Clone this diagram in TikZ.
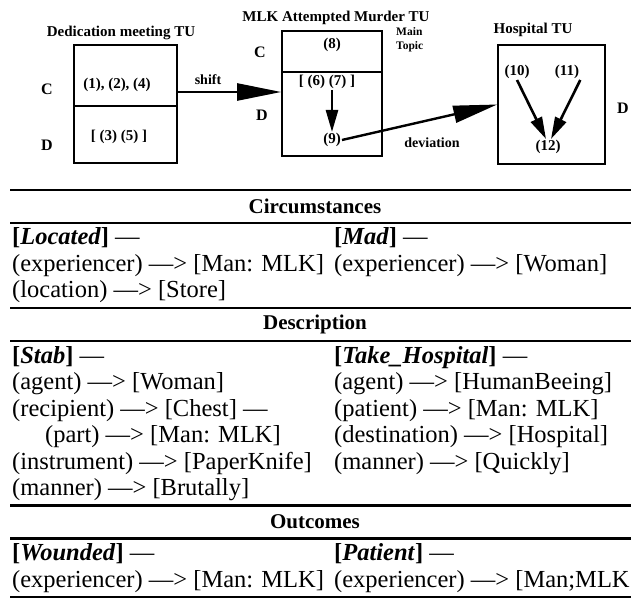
\documentclass[tikz,border=0pt]{standalone}
\usepackage{fontspec}
\setmainfont{Liberation Serif}
\usetikzlibrary{arrows.meta}

\begin{document}
\begin{tikzpicture}[x=1pt,y=-1pt,
    tu_box/.style={draw=black,line width=1.6pt,inner sep=0pt},
    tu_title/.style={font=\fontsize{15}{15}\selectfont\bfseries,inner sep=1pt},
    event_label/.style={font=\fontsize{15}{15}\selectfont\bfseries,inner sep=1pt},
    side_label/.style={font=\fontsize{16}{16}\selectfont\bfseries,inner sep=1pt},
    note_label/.style={font=\fontsize{11.5}{14}\selectfont\bfseries,align=left,inner sep=0pt,anchor=west},
    link_label/.style={font=\fontsize{14}{14}\selectfont\bfseries,inner sep=1pt},
    big_arrow/.style={line width=2.4pt,-{Triangle[length=44pt,width=17pt]}},
    small_arrow/.style={line width=2.6pt,-{Triangle[length=22pt,width=12pt]}},
    rule_line/.style={line width=2.6pt},
    section_head/.style={font=\fontsize{21}{21}\selectfont\bfseries,inner sep=0pt},
    graph_row/.style={font=\fontsize{24.5}{24.5}\selectfont,anchor=west,inner sep=0pt,text height=17pt,text depth=5pt}]
\useasboundingbox (0,0) rectangle (631,601);
\node[tu_box,minimum width=103pt,minimum height=61pt] (ded_c) at (125.5,75.5) {};
\node[tu_box,minimum width=103pt,minimum height=57pt] (ded_d) at (125.5,134.5) {};
\node[tu_box,minimum width=100pt,minimum height=41pt] (mlk_c) at (332,51.5) {};
\node[tu_box,minimum width=100pt,minimum height=84pt] (mlk_d) at (332,114) {};
\node[tu_box,minimum width=107pt,minimum height=119pt] (hosp_d) at (551.5,104.5) {};
\node[tu_title] (ded_title) at (121,33) {Dedication meeting TU};
\node[tu_title] (mlk_title) at (336,18) {MLK Attempted Murder TU};
\node[tu_title] (hosp_title) at (533,30) {Hospital TU};
\node[side_label] (ded_c_lbl) at (47,89) {C};
\node[side_label] (ded_d_lbl) at (47,145) {D};
\node[side_label] (mlk_c_lbl) at (260,52) {C};
\node[side_label] (mlk_d_lbl) at (262,115) {D};
\node[side_label] (hosp_d_lbl) at (623,108) {D};
\node[event_label] (ev124) at (117,85) {(1), (2), (4)};
\node[event_label] (ev35) at (119,137) {[ (3) (5) ]};
\node[event_label] (ev8) at (332,45) {(8)};
\node[event_label] (ev67) at (327,82) {[ (6) (7) ]};
\node[event_label] (ev9) at (332,140) {(9)};
\node[event_label] (ev10) at (517,72) {(10)};
\node[event_label] (ev11) at (567,72) {(11)};
\node[event_label] (ev12) at (548,147) {(12)};
\node[note_label] (main_topic) at (396,40) {Main\\Topic};
\node[link_label] (shift_lbl) at (208,80) {shift};
\node[link_label] (dev_lbl) at (432,143) {deviation};
\draw[big_arrow] (ded_c.east |- 0,92) -- (mlk_d.west |- 0,92);
\draw[big_arrow] (ev9.east) -- (hosp_d.west);
\draw[small_arrow] (ev67.south -| ev9) -- (ev9.north);
\draw[small_arrow] (ev10.south) -- ([xshift=-2pt]ev12.north);
\draw[small_arrow] (ev11.south east) -- ([xshift=3pt]ev12.north);
\foreach \y in {190,223,308,341,505.5,538.5,597}
  \draw[rule_line] (10,\y) -- (631,\y);
\node[section_head] (circ_head) at (315,206.5) {Circumstances};
\node[section_head] (desc_head) at (315,324.5) {Description};
\node[section_head] (out_head) at (315,522) {Outcomes};
\node[graph_row] (located) at (12,239) {\textbf{[\textit{Located}]} —};
\node[graph_row] (located_exp) at (12,265.5) {(experiencer) —> [Man: MLK]};
\node[graph_row] (located_loc) at (12,292) {(location) —> [Store]};
\node[graph_row] (mad) at (334,239) {\textbf{[\textit{Mad}]} —};
\node[graph_row] (mad_exp) at (334,265.5) {(experiencer) —> [Woman]};
\node[graph_row] (stab) at (12,357) {\textbf{[\textit{Stab}]} —};
\node[graph_row] (stab_agt) at (12,383.5) {(agent) —> [Woman]};
\node[graph_row] (stab_rcp) at (12,410) {(recipient) —> [Chest] —};
\node[graph_row] (stab_part) at (45,436.5) {(part) —> [Man: MLK]};
\node[graph_row] (stab_inst) at (12,463) {(instrument) —> [PaperKnife]};
\node[graph_row] (stab_mann) at (12,489.5) {(manner) —> [Brutally]};
\node[graph_row] (take) at (334,357) {\textbf{[\textit{Take\_Hospital}]} —};
\node[graph_row] (take_agt) at (334,383.5) {(agent) —> [HumanBeeing]};
\node[graph_row] (take_pat) at (334,410) {(patient) —> [Man: MLK]};
\node[graph_row] (take_dest) at (334,436.5) {(destination) —> [Hospital]};
\node[graph_row] (take_mann) at (334,463) {(manner) —> [Quickly]};
\node[graph_row] (wounded) at (12,554.5) {\textbf{[\textit{Wounded}]} —};
\node[graph_row] (wounded_exp) at (12,581) {(experiencer) —> [Man: MLK]};
\node[graph_row] (patient) at (334,554.5) {\textbf{[\textit{Patient}]} —};
\node[graph_row] (patient_exp) at (334,581) {(experiencer) —> [Man;MLK};
\end{tikzpicture}
\end{document}
